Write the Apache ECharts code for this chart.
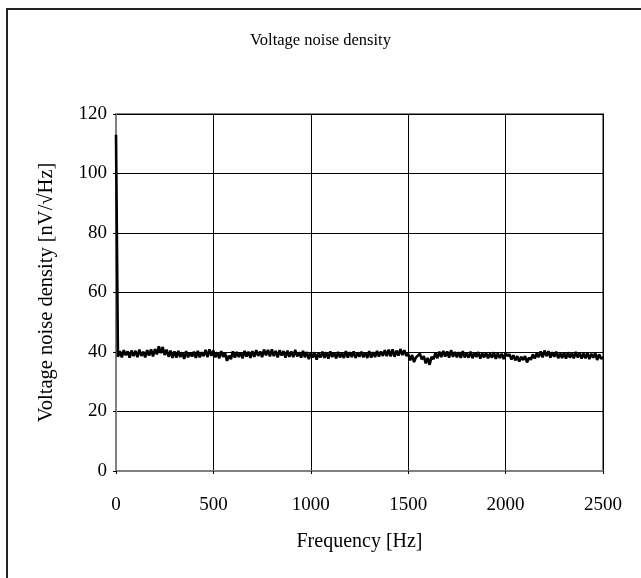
<!DOCTYPE html>
<html><head><meta charset="utf-8">
<script src="https://cdn.jsdelivr.net/npm/echarts@6/dist/echarts.min.js"></script>
<style>html,body{margin:0;padding:0;background:#fff}#c{width:641px;height:578px}</style>
</head><body><div id="c"></div>
<script>
const title = 'Voltage noise density';
const xName = 'Frequency [Hz]';
const yName = 'Voltage noise density [nV/\u221AHz]';
const freqStep = 10; // Hz between samples
const noise = [
 113, 38.4, 40.3, 38.2, 40.6, 38.9, 40.2, 38.1, 40.5, 38.6,
 40.4, 38.3, 40.8, 38.7, 40.1, 38.2, 40.6, 38.8, 40.9, 38.5,
 41.0, 39.2, 41.9, 39.6, 41.7, 39.0, 40.8, 38.4, 40.5, 38.0,
 40.2, 38.1, 40.4, 38.3, 39.9, 37.7, 40.3, 38.2, 39.8, 38.5,
 40.1, 38.0, 40.4, 38.2, 39.9, 38.6, 40.7, 38.3, 40.9, 38.7,
 40.5, 38.2, 39.9, 37.9, 40.3, 38.4, 39.6, 37.0, 38.8, 37.6,
 40.2, 38.1, 40.0, 38.3, 39.8, 37.9, 40.4, 38.5, 40.1, 38.0,
 40.3, 38.4, 40.6, 38.7, 40.2, 38.3, 40.8, 38.9, 40.7, 38.5,
 40.9, 38.6, 40.4, 38.2, 40.6, 38.8, 40.3, 38.1, 40.5, 38.4,
 40.2, 38.3, 40.7, 38.5, 39.9, 38.1, 40.4, 38.2, 40.0, 37.6,
 39.8, 38.1, 39.9, 37.4, 39.6, 38.2, 40.1, 38.0, 39.9, 37.8,
 40.2, 38.3, 39.8, 37.9, 40.0, 38.2, 39.7, 38.0, 40.3, 38.1,
 39.9, 38.3, 40.2, 38.0, 39.7, 38.4, 40.1, 38.2, 39.8, 38.0,
 40.3, 38.1, 39.9, 38.3, 40.4, 38.5, 40.2, 38.7, 40.6, 38.6,
 40.8, 38.5, 40.9, 38.4, 40.5, 38.8, 41.0, 39.0, 40.6, 38.7,
 39.4, 37.2, 39.0, 36.6, 38.2, 37.8, 39.4, 37.5, 38.6, 36.2,
 38.0, 35.7, 38.4, 37.6, 39.6, 37.9, 40.1, 38.3, 40.4, 38.5,
 40.2, 38.1, 40.6, 38.4, 40.0, 38.2, 39.9, 38.0, 40.3, 38.2,
 39.7, 38.1, 40.1, 37.9, 39.8, 38.3, 40.0, 37.8, 39.6, 38.2,
 39.8, 37.9, 39.5, 38.1, 39.9, 37.7, 39.6, 38.0, 39.4, 37.6,
 39.7, 38.6, 39.3, 37.5, 38.9, 37.2, 38.6, 36.8, 38.4, 37.3,
 38.6, 36.5, 38.1, 37.4, 39.2, 37.8, 39.6, 38.3, 40.2, 38.2,
 40.5, 38.6, 40.3, 38.1, 39.9, 38.4, 40.1, 37.9, 39.7, 38.0,
 39.8, 37.8, 39.9, 38.1, 39.6, 37.9, 40.0, 38.2, 39.7, 37.8,
 39.5, 37.9, 39.8, 37.6, 39.4, 38.1, 39.7, 37.3, 39.2, 37.7,
 38.3
];
const xTicks = [0, 500, 1000, 1500, 2000, 2500];
const yTicks = [0, 20, 40, 60, 80, 100, 120];

const data = noise.map((v, i) => [i * freqStep, v]);
const font = 'Liberation Serif, Times New Roman, serif';
const chart = echarts.init(document.getElementById('c'), null, {renderer: 'canvas'});
chart.setOption({
  animation: false,
  backgroundColor: '#fff',
  title: {text: title, left: 'center', top: 27,
    textStyle: {fontFamily: font, fontSize: 16.5, fontWeight: 'normal', color: '#000'}},
  graphic: [{type: 'rect', shape: {x: 7, y: 9, width: 720, height: 720},
    style: {fill: 'none', stroke: '#222', lineWidth: 2}, silent: true, z: 100}],
  grid: {left: 116, right: 38, top: 114, bottom: 107, show: true,
    borderColor: '#808080', borderWidth: 2, backgroundColor: '#fff'},
  xAxis: {type: 'value', min: xTicks[0], max: xTicks[xTicks.length - 1], interval: 500,
    name: xName, nameLocation: 'middle', nameGap: 61,
    nameTextStyle: {fontFamily: font, fontSize: 20, color: '#000'},
    axisLine: {show: true, lineStyle: {color: '#808080', width: 2}},
    axisTick: {show: true, length: 3, lineStyle: {color: '#000'}},
    axisLabel: {fontFamily: font, fontSize: 19, color: '#000', margin: 25,
      formatter: v => String(v)},
    splitLine: {show: true, lineStyle: {color: '#000', width: 1}}},
  yAxis: {type: 'value', min: yTicks[0], max: yTicks[yTicks.length - 1], interval: 20,
    name: yName, nameLocation: 'middle', nameGap: 59,
    nameTextStyle: {fontFamily: font, fontSize: 20.5, color: '#000'},
    axisLine: {show: true, lineStyle: {color: '#808080', width: 2}},
    axisTick: {show: true, length: 3, lineStyle: {color: '#000'}},
    axisLabel: {fontFamily: font, fontSize: 19, color: '#000', margin: 9,
      formatter: v => String(v)},
    splitLine: {show: true, lineStyle: {color: '#000', width: 1}}},
  series: [{type: 'line', data: data, showSymbol: false, symbol: 'none',
    lineStyle: {color: '#000', width: 2.6}, z: 5}]
});
</script></body></html>
